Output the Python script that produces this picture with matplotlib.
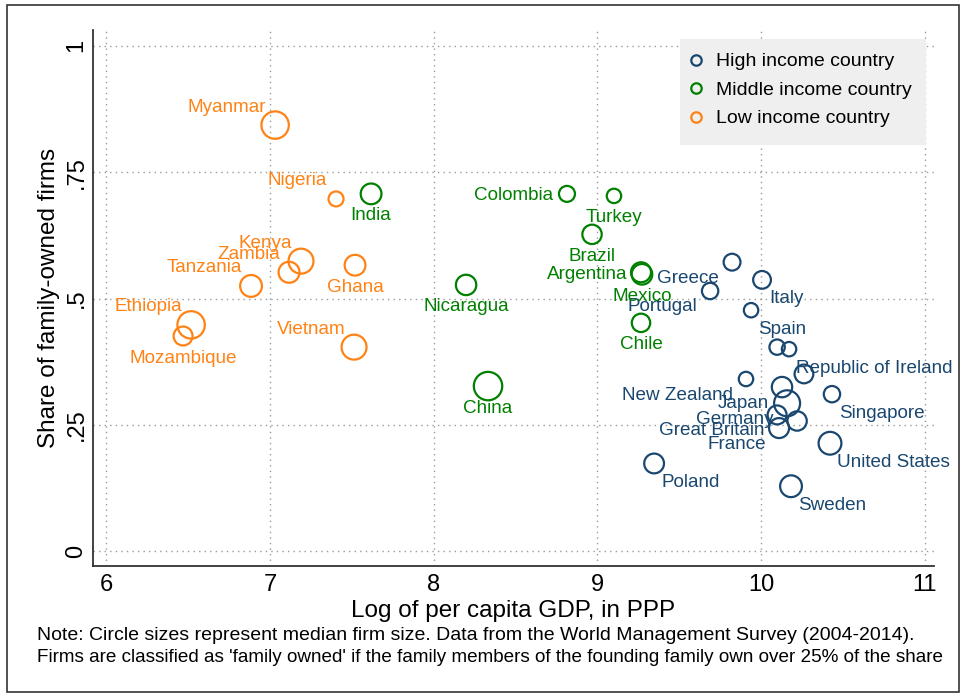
import matplotlib
matplotlib.use("Agg")
import matplotlib.pyplot as plt
from matplotlib.lines import Line2D
from matplotlib.patches import Rectangle

plt.rcParams['font.family'] = ['Liberation Sans', 'DejaVu Sans']

# high income countries ("" = circle drawn without a label)
hi_names = ["Greece", "Italy", "Portugal", "Spain", "", "Republic of Ireland", "",
            "New Zealand", "Japan", "Germany", "Singapore", "Great Britain", "",
            "France", "United States", "Poland", "Sweden"]
hi_gdp = [9.822, 10.005, 9.688, 9.938, 10.097, 10.170, 10.261,
          9.907, 10.127, 10.158, 10.432, 10.097, 10.219,
          10.109, 10.420, 9.346, 10.182]
hi_share = [0.572, 0.537, 0.515, 0.477, 0.404, 0.400, 0.351,
            0.341, 0.325, 0.293, 0.311, 0.270, 0.258,
            0.244, 0.214, 0.174, 0.129]
hi_size = [71, 79, 67, 52, 59, 52, 88, 52, 104, 169, 67, 90, 94, 100, 130, 98, 119]
hi_pos = [8, 4, 8, 4, 0, 4, 0, 8, 8, 8, 4, 8, 0, 8, 4, 4, 4]

mid_names = ["India", "Colombia", "Turkey", "Brazil", "Argentina", "Mexico",
             "Nicaragua", "Chile", "China"]
mid_gdp = [7.618, 8.814, 9.101, 8.967, 9.266, 9.272, 8.198, 9.266, 8.332]
mid_share = [0.707, 0.707, 0.703, 0.627, 0.552, 0.548, 0.527, 0.452, 0.327]
mid_size = [108, 64, 52, 94, 100, 106, 104, 85, 202]
mid_pos = [6, 9, 6, 6, 9, 6, 6, 6, 6]

low_names = ["Myanmar", "Nigeria", "Kenya", "Zambia", "Tanzania", "Ghana",
             "Ethiopia", "Mozambique", "Vietnam"]
low_gdp = [7.032, 7.404, 7.190, 7.117, 6.885, 7.520, 6.519, 6.470, 7.514]
low_share = [0.843, 0.697, 0.574, 0.552, 0.525, 0.566, 0.448, 0.426, 0.404]
low_size = [188, 56, 156, 110, 119, 108, 188, 90, 156]
low_pos = [10, 10, 10, 10, 10, 6, 10, 6, 10]

groups = ["High income country", "Middle income country", "Low income country"]
colors = ["#1a476f", "#008000", "#ff8214"]

# clock position -> (dx, dy in pixels, ha)
clock = {10: (-9, 18, "right"), 4: (7, -19, "left"), 8: (-13, -16, "right"),
         6: (0, -22, "center"), 9: (-14, -2, "right")}

fig = plt.figure(figsize=(9.64, 6.98), dpi=100)
ax = fig.add_axes([93 / 964, 132 / 698, 841 / 964, 536 / 698])

data = [(hi_names, hi_gdp, hi_share, hi_size, hi_pos),
        (mid_names, mid_gdp, mid_share, mid_size, mid_pos),
        (low_names, low_gdp, low_share, low_size, low_pos)]

for (names, gx, sy, sz, pos), col in zip(data, colors):
    ax.scatter(gx, sy, s=[v * 2.07 for v in sz], facecolors="none",
               edgecolors=col, linewidths=1.6, zorder=3)
    for n, x, y, p in zip(names, gx, sy, pos):
        if not n:
            continue
        dx, dy, ha = clock[p]
        ax.annotate(n, (x, y), xytext=(dx, dy), textcoords="offset pixels",
                    ha=ha, va="center", color=col, fontsize=13.6, zorder=4)

ax.set_xlim(5.92, 11.055)
ax.set_ylim(-0.0287, 1.031)
ax.set_xticks([6, 7, 8, 9, 10, 11])
ax.set_yticks([0, 0.25, 0.5, 0.75, 1])
ax.set_yticklabels(["0", ".25", ".5", ".75", "1"], rotation=90, va="center")
ax.tick_params(length=0, labelsize=17)
ax.tick_params(axis="x", pad=6)
ax.tick_params(axis="y", pad=4)
ax.grid(True, linestyle=(0, (1, 3)), color="#9a9a9a", linewidth=1)
ax.set_axisbelow(True)
for s in ["top", "right"]:
    ax.spines[s].set_visible(False)
for s in ["left", "bottom"]:
    ax.spines[s].set_color("#333333")
    ax.spines[s].set_linewidth(1.3)

ax.set_xlabel("Log of per capita GDP, in PPP", fontsize=17.5, labelpad=3)
ax.set_ylabel("Share of family-owned firms", fontsize=17.5, labelpad=4)

# legend
ax.add_patch(Rectangle((0.698, 0.785), 0.292, 0.198, transform=ax.transAxes,
                       facecolor="#efefef", edgecolor="none", zorder=5))
handles = [Line2D([], [], marker="o", linestyle="none", markerfacecolor="none",
                  markeredgecolor=c, markersize=7.5, markeredgewidth=1.6) for c in colors]
leg = ax.legend(handles, groups, loc="upper left", bbox_to_anchor=(0.6935, 0.972),
                frameon=False, fontsize=14, handletextpad=0.45, labelspacing=0.56,
                handlelength=1.2, borderaxespad=0)
leg.set_zorder(6)

frame = Rectangle((7 / 964, 6 / 698), 952 / 964, 687 / 698, transform=fig.transFigure,
                  fill=False, edgecolor="#333333", linewidth=1.2)
fig.patches.append(frame)

# note under the chart (second line is cut at the frame in the original)
fig.text(37 / 964, 1 - 636 / 698,
         "Note: Circle sizes represent median firm size. Data from the World Management Survey (2004-2014).",
         va="center", ha="left", fontsize=14)
fig.text(37 / 964, 1 - 657 / 698,
         "Firms are classified as 'family owned' if the family members of the founding family own over 25% of the share",
         va="center", ha="left", fontsize=13.6)

fig.savefig("out.png", dpi=100)
